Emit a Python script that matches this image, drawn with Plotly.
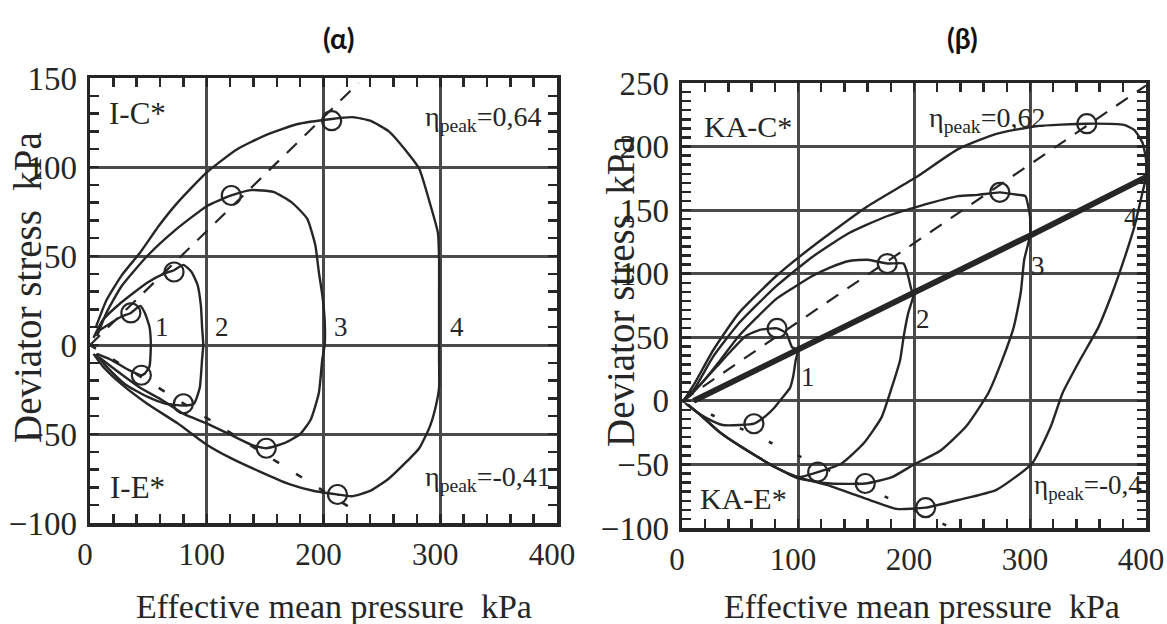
import plotly.graph_objects as go

# ---------------- data: (a) isotropically consolidated ----------------
a_names = ["1", "2", "3", "4"]
a_p = [
    [5, 17, 27, 35, 43, 47, 51, 52, 52, 51, 47, 44, 33, 17, 6],
    [3, 11, 27, 49, 63, 72, 80, 87, 92, 95, 96, 97, 96, 94, 89, 80, 65, 49, 30, 14, 5],
    [6, 14, 27, 49, 72, 100, 121, 138, 157, 173, 186, 193, 196, 199, 201, 201,
     199, 196, 189, 180, 167, 151, 138, 119, 100, 81, 62, 43, 24, 8],
    [5, 14, 27, 43, 59, 75, 100, 126, 151, 177, 207, 225, 240, 256, 272, 282, 291, 298, 299, 299, 299,
     299, 299, 296, 291, 282, 272, 256, 240, 224, 212, 192, 170, 145, 119, 100, 75, 49, 27, 11, 3],
]
a_q = [
    [7, 12, 16, 18, 22, 18, 10, 3, -3, -12, -16, -17, -14, -8, -5],
    [4, 14, 24, 35, 40, 42, 45, 41, 34, 22, 10, 0, -8, -24, -33, -34, -33, -29, -22, -12, -5],
    [5, 18, 33, 50, 64, 78, 84, 87, 86, 80, 71, 56, 41, 28, 14, 0,
     -8, -27, -42, -50, -55, -58, -56, -50, -44, -39, -31, -24, -15, -7],
    [10, 25, 39, 52, 67, 80, 97, 110, 118, 124, 127, 128, 126, 120, 108, 99, 80, 63, 48, 29, 1,
     -8, -24, -35, -46, -58, -65, -75, -82, -85, -84, -82, -78, -71, -63, -56, -44, -33, -22, -12, -5],
]
a_peak_p = [35, 72, 121, 207, 44, 80, 151, 212]
a_peak_q = [18, 41, 84, 126, -17, -33, -58, -84]
a_label_p = [62, 113, 215, 314]
a_label_q = [10, 10, 10, 10]
a_eta_c, a_eta_e = 0.64, -0.41
a_line_p = [0, 230]
a_line_pe = [0, 228]

# ---------------- data: (b) anisotropically consolidated ----------------
b_k0_p = [10, 100, 200, 300, 400]
b_k0_q = [0, 40, 85, 130, 176]
b_p = [
    [2, 7, 17, 30, 43, 55, 68, 82, 90, 95, 100, 98, 96, 93, 87, 80, 72, 62, 50, 35, 22, 10, 3],
    [2, 17, 33, 49, 65, 81, 96, 112, 128, 144, 160, 177, 191, 195, 198, 200,
     195, 191, 188, 181, 172, 157, 138, 117, 100, 80, 65, 49, 33, 17, 5],
    [2, 11, 27, 49, 81, 112, 144, 176, 204, 238, 255, 274, 290, 296, 300, 300,
     295, 292, 286, 276, 264, 245, 223, 200, 181, 158, 128, 100, 80, 65, 49, 33, 17, 5],
    [2, 11, 27, 49, 81, 112, 160, 202, 238, 271, 305, 349, 381, 390, 397, 400, 400,
     397, 390, 381, 371, 359, 343, 328, 318, 302, 271, 238, 210, 185, 162, 128, 100, 80, 65, 49, 33, 17, 5],
]
b_q = [
    [1, 4, 14, 27, 40, 51, 56, 57, 53, 42, 40, 32, 20, 10, 3, -5, -12, -18, -19, -19, -14, -7, -2],
    [1, 14, 32, 51, 66, 80, 89, 98, 105, 110, 111, 108, 108, 98, 87, 85,
     69, 50, 32, 11, -13, -33, -49, -56, -60, -52, -44, -35, -25, -12, -3],
    [1, 10, 35, 61, 90, 113, 132, 145, 153, 161, 162, 164, 162, 161, 145, 130,
     111, 85, 58, 32, 6, -20, -39, -50, -60, -65, -65, -61, -52, -44, -35, -25, -12, -3],
    [1, 14, 40, 69, 98, 121, 153, 176, 198, 210, 216, 218, 217, 213, 203, 190, 176,
     164, 137, 111, 85, 58, 32, 6, -20, -49, -70, -78, -84, -85, -78, -67, -60, -52, -44, -35, -25, -12, -3],
]
b_peak_p = [82, 177, 274, 349, 62, 117, 158, 210]
b_peak_q = [57, 108, 164, 218, -18, -56, -65, -84]
b_label_p = [109, 208, 307, 387]
b_label_q = [19, 64, 106, 145]
b_eta_c, b_eta_e = 0.62, -0.43
b_line_p = [0, 400]
b_line_pe = [0, 232]

x_ticks = [0, 100, 200, 300, 400]
a_y_ticks = [-100, -50, 0, 50, 100, 150]
b_y_ticks = [-100, -50, 0, 50, 100, 150, 200, 250]

# ---------------- styling ----------------
INK = "#262626"
GRID = "#4a4a4a"
SERIF = "Liberation Serif, Times New Roman, serif"

# positions below are given in screenshot pixels (page margin removed by post_script)
W, H = 1167, 624

def fx(px):
    return px / W

def fy(py):
    return 1 - py / H

fig = go.Figure()

def add_panel(xr, yr, ps, qs, pk_p, pk_q, eta_c, eta_e, lp, lpe, c_dash, e_dash):
    for p, q in zip(ps, qs):
        fig.add_trace(go.Scatter(x=p, y=q, mode="lines", xaxis=xr, yaxis=yr,
                                 line=dict(color=INK, width=2.4, shape="spline", smoothing=0.5),
                                 showlegend=False, hoverinfo="skip"))
    fig.add_trace(go.Scatter(x=lp, y=[eta_c * v for v in lp], mode="lines", xaxis=xr, yaxis=yr,
                             line=dict(color=INK, width=2.2, dash=c_dash),
                             showlegend=False, hoverinfo="skip"))
    fig.add_trace(go.Scatter(x=lpe, y=[eta_e * v for v in lpe], mode="lines", xaxis=xr, yaxis=yr,
                             line=dict(color=INK, width=2.6, dash=e_dash),
                             showlegend=False, hoverinfo="skip"))
    fig.add_trace(go.Scatter(x=pk_p, y=pk_q, mode="markers", xaxis=xr, yaxis=yr,
                             marker=dict(symbol="circle-open", size=19, color=INK,
                                         line=dict(width=2.2, color=INK)),
                             showlegend=False, hoverinfo="skip"))

add_panel("x", "y", a_p, a_q, a_peak_p, a_peak_q, a_eta_c, a_eta_e,
          a_line_p, a_line_pe, "14px,11px", "7px,20px")
fig.add_trace(go.Scatter(x=b_k0_p, y=b_k0_q, mode="lines", xaxis="x2", yaxis="y2",
                         line=dict(color=INK, width=6), showlegend=False, hoverinfo="skip"))
add_panel("x2", "y2", b_p, b_q, b_peak_p, b_peak_q, b_eta_c, b_eta_e,
          b_line_p, b_line_pe, "14px,11px", "4px,28px")


def xax(l, r, y_tick_anchor):
    return dict(domain=[fx(l), fx(r)], range=[0, 400], tickvals=x_ticks, anchor=y_tick_anchor,
                showgrid=True, gridcolor=GRID, gridwidth=3, zeroline=False, automargin=False,
                showline=True, linecolor=INK, linewidth=3.5, mirror="allticks",
                ticks="inside", ticklen=6, tickwidth=2.5, tickcolor=INK,
                minor=dict(dtick=20, tick0=0, ticks="inside", ticklen=9, tickwidth=2.5,
                           tickcolor=INK, showgrid=False),
                tickfont=dict(family=SERIF, size=31, color=INK), ticklabelstandoff=1,
                ticklabelshift=-5, ticklabeloverflow="allow", fixedrange=True)

def yax(t, b, rng, tv, mdt, x_anchor):
    return dict(domain=[fy(b), fy(t)], range=rng, tickvals=tv, anchor=x_anchor,
                showgrid=True, gridcolor=GRID, gridwidth=3, zeroline=False, automargin=False,
                showline=True, linecolor=INK, linewidth=3.5, mirror="allticks",
                ticks="inside", ticklen=6, tickwidth=2.5, tickcolor=INK,
                minor=dict(dtick=mdt, tick0=0, ticks="inside", ticklen=9, tickwidth=2.5,
                           tickcolor=INK, showgrid=False),
                tickfont=dict(family=SERIF, size=33, color=INK), ticklabelstandoff=3,
                ticklabeloverflow="allow", fixedrange=True)

anns = []
def txt(x, y, s, size, xref, yref, **kw):
    d = dict(x=x, y=y, text=s, xref=xref, yref=yref, showarrow=False,
             xanchor="center", yanchor="middle",
             font=dict(family=SERIF, size=size, color=INK))
    d.update(kw)
    anns.append(d)

# panel a texts
for lab, x, y in zip(a_names, a_label_p, a_label_q):
    txt(x, y, lab, 27, "x", "y")
txt(41, 130, "I-C*", 31, "x", "y")
txt(41, -80, "I-E*", 31, "x", "y")
txt(285, 127, "η<sub>peak</sub>=0,64", 28, "x", "y", xanchor="left")
txt(285, -75, "η<sub>peak</sub>=-0,41", 28, "x", "y", xanchor="left")

# panel b texts
for lab, x, y in zip(a_names, b_label_p, b_label_q):
    txt(x, y, lab, 27, "x2", "y2")
txt(57, 216, "KA-C*", 30, "x2", "y2")
txt(53, -77, "KA-E*", 30, "x2", "y2")
txt(211, 221, "η<sub>peak</sub>=0,62", 28, "x2", "y2", xanchor="left")
txt(302, -68, "η<sub>peak</sub>=-0,4", 27, "x2", "y2", xanchor="left")

# axis titles and panel titles
txt(fx(27), fy(288), "Deviator stress  kPa", 39, "paper", "paper", textangle=-90)
txt(fx(620), fy(292), "Deviator stress  kPa", 39, "paper", "paper", textangle=-90)
txt(fx(334), fy(606), "Effective mean pressure  kPa", 34, "paper", "paper")
txt(fx(922), fy(606), "Effective mean pressure  kPa", 34, "paper", "paper")
anns.append(dict(x=fx(338), y=fy(38), xref="paper", yref="paper", showarrow=False,
                 xanchor="center", yanchor="middle",
                 text="<b>(α)</b>", font=dict(family="Lato, Open Sans, sans-serif", size=28, color="#111")))
anns.append(dict(x=fx(962), y=fy(38), xref="paper", yref="paper", showarrow=False,
                 xanchor="center", yanchor="middle",
                 text="<b>(β)</b>", font=dict(family="Lato, Open Sans, sans-serif", size=28, color="#111")))

fig.update_layout(
    width=W, height=H, margin=dict(l=0, r=0, t=0, b=0, autoexpand=False),
    paper_bgcolor="white", plot_bgcolor="white", showlegend=False,
    xaxis=xax(90, 557, "y"),
    yaxis=yax(78, 523, [-100, 150], a_y_ticks, 10, "x"),
    xaxis2=xax(682, 1146, "y2"),
    yaxis2=yax(83, 528, [-100, 250], b_y_ticks, 50 / 7, "x2"),
    annotations=anns,
)

fig.write_html(
    "out.html",
    config={"displayModeBar": False, "staticPlot": True},
    post_script="document.body.style.margin='0';document.body.style.overflow='hidden';",
)
